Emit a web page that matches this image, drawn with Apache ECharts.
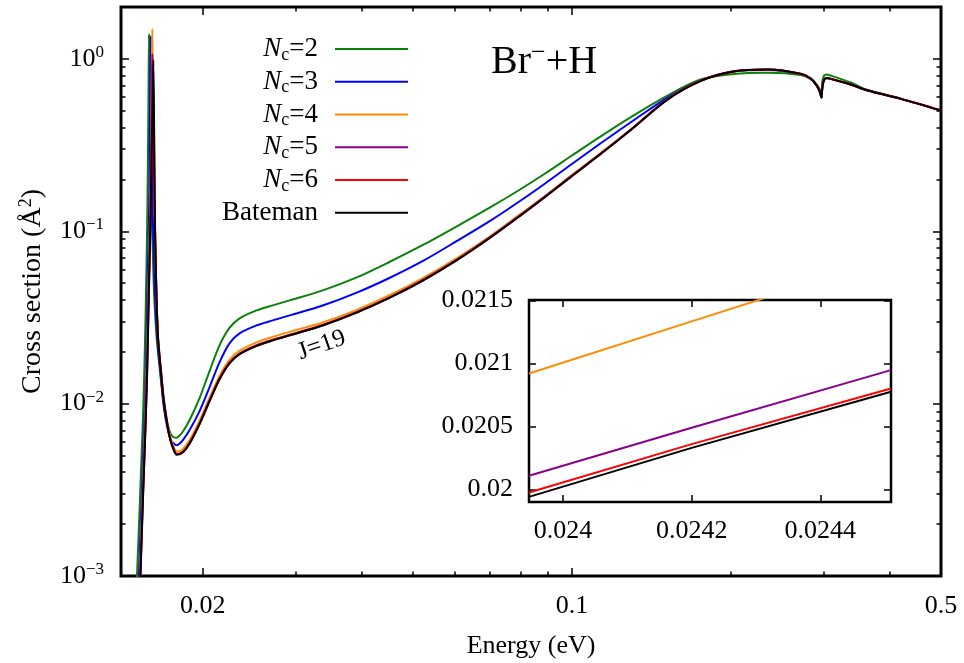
<!DOCTYPE html>
<html>
<head>
<meta charset="utf-8">
<script src="https://cdn.jsdelivr.net/npm/echarts@6/dist/echarts.min.js"></script>
<style>
  html, body { margin: 0; padding: 0; background: #fff; }
  #chart { width: 964px; height: 663px; }
</style>
</head>
<body>
<div id="chart"></div>
<script>
// Collision energy grid (eV)
const energy = [
  0.01490, 0.01503, 0.01517, 0.01530, 0.01543, 0.01557, 0.01570, 0.01577, 0.01582, 0.01587,
  0.01593, 0.01598, 0.01602, 0.01605, 0.01609, 0.01612, 0.01617, 0.01621, 0.01626, 0.01634,
  0.01644, 0.01655, 0.01670, 0.01684, 0.01699, 0.01718, 0.01737, 0.01760, 0.01783, 0.01806,
  0.01838, 0.01887, 0.01971, 0.02059, 0.02151, 0.02247, 0.02348, 0.02529, 0.02713, 0.02921,
  0.03374, 0.03914, 0.04522, 0.05223, 0.06058, 0.07000, 0.07977, 0.08898, 0.1000, 0.1132,
  0.1307, 0.1517, 0.1752, 0.2023, 0.2348, 0.2713, 0.2833, 0.2909, 0.2947, 0.2969,
  0.2979, 0.2999, 0.3039, 0.3092, 0.3374, 0.3634, 0.4199, 0.5000
];

// Cross sections (Å^2) for each number of coupled channels
const sigmaNc2 = [
  5.43e-4, 1.110e-3, 2.270e-3, 4.642e-3, 9.52e-3, 0.02825, 0.1210, 0.4567, 1.383, 0.6376,
  0.3060, 0.1509, 0.1125, 0.09331, 0.07337, 0.05770, 0.04418, 0.03764, 0.03165, 0.02488,
  0.02037, 0.01667, 0.01276, 0.01031, 0.008670, 0.007484, 0.006727, 0.006377, 0.006335, 0.006506,
  0.006956, 0.008004, 0.01073, 0.01539, 0.02178, 0.02750, 0.03123, 0.03475, 0.03714, 0.03971,
  0.04537, 0.05398, 0.06656, 0.08325, 0.1069, 0.1374, 0.1747, 0.2163, 0.2750, 0.3544,
  0.4691, 0.6127, 0.7586, 0.8163, 0.8296, 0.8056, 0.7637, 0.7097, 0.6638, 0.6292,
  0.7290, 0.7949, 0.8110, 0.8003, 0.7290, 0.6595, 0.5862, 0.5017
];
const sigmaNc3 = [
  2.696e-4, 5.69e-4, 1.202e-3, 2.539e-3, 5.36e-3, 0.01132, 0.03815, 0.07586, 0.1227, 0.3143,
  1.347, 0.4567, 0.2375, 0.1509, 0.1186, 0.09331, 0.06955, 0.04981, 0.03917, 0.02883,
  0.02178, 0.01759, 0.01329, 0.01004, 0.008328, 0.007003, 0.006209, 0.005887, 0.005732, 0.005848,
  0.006209, 0.007003, 0.009024, 0.01243, 0.01736, 0.02236, 0.02556, 0.02844, 0.03040, 0.03250,
  0.03709, 0.04406, 0.05375, 0.06727, 0.08785, 0.1148, 0.1498, 0.1893, 0.2455, 0.3228,
  0.4388, 0.5965, 0.7485, 0.8441, 0.8612, 0.8185, 0.7686, 0.7001, 0.6462, 0.5965,
  0.6728, 0.7485, 0.7738, 0.7658, 0.7097, 0.6550, 0.5862, 0.5017
];
const sigmaNc4 = [
  1.721e-4, 3.765e-4, 8.21e-4, 1.794e-3, 3.891e-3, 8.555e-3, 0.02267, 0.04262, 0.06637, 0.1038,
  0.1898, 0.4754, 0.9430, 1.492, 0.7485, 0.4106, 0.2406, 0.1411, 0.08274, 0.04359,
  0.02590, 0.01983, 0.01479, 0.01132, 0.009268, 0.007484, 0.006377, 0.005656, 0.005290, 0.005290,
  0.005499, 0.006127, 0.007949, 0.01080, 0.01449, 0.01794, 0.02030, 0.02267, 0.02439, 0.02607,
  0.02956, 0.03499, 0.04269, 0.05354, 0.06984, 0.09352, 0.1253, 0.1603, 0.2116, 0.2829,
  0.4004, 0.5831, 0.7440, 0.8441, 0.8669, 0.8185, 0.7686, 0.7001, 0.6462, 0.5965,
  0.6728, 0.7485, 0.7738, 0.7658, 0.7097, 0.6550, 0.5862, 0.5017
];
const sigmaNc5 = [
  1.530e-4, 3.338e-4, 7.30e-4, 1.591e-3, 3.478e-3, 7.586e-3, 0.01873, 0.03521, 0.05483, 0.08531,
  0.1417, 0.3378, 0.6745, 1.069, 0.6127, 0.4273, 0.2940, 0.1509, 0.08274, 0.04302,
  0.02508, 0.01920, 0.01432, 0.01097, 0.008975, 0.007249, 0.006176, 0.005476, 0.005123, 0.005123,
  0.005290, 0.005895, 0.007647, 0.01039, 0.01394, 0.01727, 0.01951, 0.02180, 0.02347, 0.02508,
  0.02863, 0.03401, 0.04150, 0.05219, 0.06854, 0.09242, 0.1238, 0.1594, 0.2105, 0.2815,
  0.4002, 0.5843, 0.7480, 0.8483, 0.8680, 0.8190, 0.7690, 0.7005, 0.6466, 0.5968,
  0.6731, 0.7488, 0.7740, 0.7660, 0.7099, 0.6552, 0.5864, 0.5018
];
const sigmaNc6 = [
  1.42e-4, 3.08e-4, 6.77e-4, 1.47e-3, 3.23e-3, 7.00e-3, 0.01645, 0.03123, 0.04850, 0.07535,
  0.1252, 0.2423, 0.4273, 0.6233, 1.000, 0.6127, 0.3841, 0.1509, 0.08274, 0.04244,
  0.02493, 0.01909, 0.01424, 0.01090, 0.008922, 0.007205, 0.006139, 0.005444, 0.005092, 0.005092,
  0.005258, 0.005860, 0.007601, 0.01033, 0.01386, 0.01716, 0.01939, 0.02167, 0.02333, 0.02493,
  0.02846, 0.03381, 0.04125, 0.05188, 0.06814, 0.09187, 0.1230, 0.1585, 0.2093, 0.2801,
  0.3984, 0.5820, 0.7451, 0.8458, 0.8686, 0.8200, 0.7700, 0.7010, 0.6470, 0.5970,
  0.6735, 0.7490, 0.7745, 0.7665, 0.7100, 0.6555, 0.5865, 0.5020
];
const sigmaBateman = [
  1.42e-4, 3.08e-4, 6.77e-4, 1.47e-3, 3.23e-3, 7.00e-3, 0.01645, 0.03123, 0.04850, 0.07535,
  0.1252, 0.2193, 0.3451, 0.4629, 0.6728, 0.9776, 0.4388, 0.1509, 0.08274, 0.04244,
  0.02488, 0.01905, 0.01421, 0.01088, 0.008904, 0.007191, 0.006127, 0.005433, 0.005060, 0.005100,
  0.005248, 0.005848, 0.007586, 0.01031, 0.01383, 0.01713, 0.01935, 0.02163, 0.02328, 0.02488,
  0.02840, 0.03374, 0.04117, 0.05178, 0.06800, 0.09169, 0.1228, 0.1582, 0.2089, 0.2795,
  0.3976, 0.5808, 0.7436, 0.8441, 0.8669, 0.8185, 0.7686, 0.7001, 0.6462, 0.5965,
  0.6728, 0.7485, 0.7738, 0.7658, 0.7097, 0.6550, 0.5862, 0.5017
];

// Close-up near the J=19 shoulder
const insetEnergy = [0.023947, 0.0242, 0.02451];
const insetNc4 = [0.020921, 0.021335, 0.021842];
const insetNc5 = [0.020108, 0.020490, 0.020948];
const insetNc6 = [0.019976, 0.020360, 0.020802];
const insetBateman = [0.019941, 0.020330, 0.020776];

const seriesNames = ['Nc=2', 'Nc=3', 'Nc=4', 'Nc=5', 'Nc=6', 'Bateman'];
const seriesColors = ['#0a820a', '#0000ff', '#ff8c00', '#8b008b', '#ff0000', '#000000'];

// Axis ticks
const xTickValues = [0.02, 0.1, 0.5];
const xTickLabels = ['0.02', '0.1', '0.5'];
const xMinorTicks = [0.03, 0.04, 0.05, 0.06, 0.07, 0.08, 0.09, 0.2, 0.3, 0.4];
const yTickValues = [0.001, 0.01, 0.1, 1];
const yTickExponents = ['−3', '−2', '−1', '0'];
const yMinorTicks = [
  0.002, 0.003, 0.004, 0.005, 0.006, 0.007, 0.008, 0.009,
  0.02, 0.03, 0.04, 0.05, 0.06, 0.07, 0.08, 0.09,
  0.2, 0.3, 0.4, 0.5, 0.6, 0.7, 0.8, 0.9
];
const insetXTicks = [0.024, 0.0242, 0.0244];
const insetXLabels = ['0.024', '0.0242', '0.0244'];
const insetYTicks = [0.02, 0.0205, 0.021, 0.0215];
const insetYLabels = ['0.02', '0.0205', '0.021', '0.0215'];

const FONT = 'Liberation Serif';
const mainSigma = [sigmaNc2, sigmaNc3, sigmaNc4, sigmaNc5, sigmaNc6, sigmaBateman];
const insetSigma = { 'Nc=4': insetNc4, 'Nc=5': insetNc5, 'Nc=6': insetNc6, 'Bateman': insetBateman };

function lookup(values, labels, v) {
  const i = values.findIndex(t => Math.abs(t - v) <= Math.abs(t) * 1e-6);
  return i < 0 ? '' : labels[i];
}

function tickAxis(base, ticks, len, withLabels) {
  return Object.assign({
    splitLine: { show: false },
    axisLine: { show: false, onZero: false },
    axisTick: {
      show: true, inside: true, length: len, customValues: ticks,
      lineStyle: { color: '#000', width: 1.5 }
    },
    axisLabel: withLabels ? withLabels : { show: false },
    silent: true
  }, base);
}

const labelFont = { fontFamily: FONT, fontSize: 26, color: '#000' };

const mainX = { type: 'log', logBase: 10, gridIndex: 0, min: 0.014, max: 0.5 };
const mainY = { type: 'log', logBase: 10, gridIndex: 0, min: 0.001, max: 2 };
const insX = { type: 'value', gridIndex: 1, min: 0.023947, max: 0.02451, scale: true };
const insY = { type: 'value', gridIndex: 1, min: 0.0199, max: 0.021505, scale: true };

const xAxes = [
  tickAxis(Object.assign({ position: 'bottom', name: 'Energy (eV)', nameLocation: 'middle', nameGap: 57,
    nameTextStyle: { fontFamily: FONT, fontSize: 26, color: '#000' } }, mainX), xTickValues, 8,
    Object.assign({ show: true, customValues: xTickValues, margin: 17,
      formatter: v => lookup(xTickValues, xTickLabels, v) }, labelFont)),
  tickAxis(Object.assign({ position: 'bottom' }, mainX), xMinorTicks, 4.5),
  tickAxis(Object.assign({ position: 'top' }, mainX), xTickValues, 8),
  tickAxis(Object.assign({ position: 'top' }, mainX), xMinorTicks, 4.5),
  tickAxis(Object.assign({ position: 'bottom' }, insX), insetXTicks, 7,
    Object.assign({ show: true, customValues: insetXTicks, margin: 16,
      formatter: v => lookup(insetXTicks, insetXLabels, v) }, labelFont)),
  tickAxis(Object.assign({ position: 'top' }, insX), insetXTicks, 7)
];

const yAxes = [
  tickAxis(Object.assign({ position: 'left', name: '{a|Cross section (Å}{s|2}{a|)}', nameLocation: 'middle', nameGap: 72,
    nameTextStyle: { color: '#000', rich: {
      a: { fontFamily: FONT, fontSize: 28, lineHeight: 32 },
      s: { fontFamily: FONT, fontSize: 18, lineHeight: 14, verticalAlign: 'top' }
    } } }, mainY), yTickValues, 8,
    { show: true, customValues: yTickValues, margin: 17, color: '#000',
      formatter: v => '{b|10}{e|' + lookup(yTickValues, yTickExponents, v) + '}',
      rich: {
        b: { fontFamily: FONT, fontSize: 26, lineHeight: 30 },
        e: { fontFamily: FONT, fontSize: 17, lineHeight: 14, verticalAlign: 'top' }
      } }),
  tickAxis(Object.assign({ position: 'left' }, mainY), yMinorTicks, 4.5),
  tickAxis(Object.assign({ position: 'right' }, mainY), yTickValues, 8),
  tickAxis(Object.assign({ position: 'right' }, mainY), yMinorTicks, 4.5),
  tickAxis(Object.assign({ position: 'left' }, insY), insetYTicks, 7,
    Object.assign({ show: true, customValues: insetYTicks, margin: 16,
      formatter: v => lookup(insetYTicks, insetYLabels, v) }, labelFont)),
  tickAxis(Object.assign({ position: 'right' }, insY), insetYTicks, 7)
];

const series = [];
seriesNames.forEach((name, i) => {
  series.push({
    name: name, type: 'line', xAxisIndex: 0, yAxisIndex: 0,
    data: energy.map((e, k) => [e, mainSigma[i][k]]),
    showSymbol: false, symbol: 'none', clip: true, smooth: 0.3,
    lineStyle: { color: seriesColors[i], width: 2 },
    itemStyle: { color: seriesColors[i] },
    z: 2 + i, animation: false
  });
});
seriesNames.forEach((name, i) => {
  const vals = insetSigma[name];
  if (!vals) return;
  series.push({
    name: name, type: 'line', xAxisIndex: 4, yAxisIndex: 4,
    data: insetEnergy.map((e, k) => [e, vals[k]]),
    showSymbol: false, symbol: 'none', clip: true,
    lineStyle: { color: seriesColors[i], width: 2 },
    itemStyle: { color: seriesColors[i] },
    z: 2 + i, animation: false
  });
});

const chart = echarts.init(document.getElementById('chart'), null, { renderer: 'canvas' });
chart.setOption({
  backgroundColor: '#fff',
  animation: false,
  grid: [
    { left: 121, top: 7, width: 820, height: 569, show: true, borderColor: '#000', borderWidth: 3,
      backgroundColor: 'rgba(0,0,0,0)', containLabel: false, outerBoundsMode: 'none' },
    { left: 529, top: 300, width: 362, height: 202, show: true, borderColor: '#000', borderWidth: 2.5,
      backgroundColor: '#fff', containLabel: false, outerBoundsMode: 'none' }
  ],
  xAxis: xAxes,
  yAxis: yAxes,
  legend: {
    data: seriesNames,
    orient: 'vertical',
    align: 'right',
    right: 556,
    top: 34,
    padding: 0,
    itemGap: 2.75,
    itemWidth: 73,
    itemHeight: 2,
    icon: 'rect',
    selectedMode: false,
    textStyle: {
      fontFamily: FONT, fontSize: 27, color: '#000', lineHeight: 30, padding: [0, 12, 0, 0],
      rich: {
        n: { fontFamily: FONT, fontSize: 27, fontStyle: 'italic', lineHeight: 30 },
        c: { fontFamily: FONT, fontSize: 18, lineHeight: 14, verticalAlign: 'bottom' },
        t: { fontFamily: FONT, fontSize: 27, lineHeight: 30 }
      }
    },
    formatter: name => name.indexOf('Nc=') === 0 ? '{n|N}{c|c}{t|=' + name.slice(3) + '}' : name
  },
  series: series
});

// Title text and the partial-wave annotation
const jPos = chart.convertToPixel({ xAxisIndex: 0, yAxisIndex: 0 }, [0.0336, 0.0218]);
chart.setOption({
  graphic: [
    {
      type: 'text', x: 491, y: 62, silent: true,
      style: {
        text: '{a|Br}{s|−}{a|+H}', align: 'left', verticalAlign: 'middle', fill: '#000',
        rich: {
          a: { fontFamily: FONT, fontSize: 40, lineHeight: 44 },
          s: { fontFamily: FONT, fontSize: 26, lineHeight: 22, verticalAlign: 'top' }
        }
      }
    },
    {
      type: 'text', x: jPos[0], y: jPos[1], rotation: 19 * Math.PI / 180, silent: true,
      style: {
        text: 'J=19', align: 'center', verticalAlign: 'middle', fill: '#000',
        fontFamily: FONT, fontSize: 25
      }
    }
  ]
});
</script>
</body>
</html>
